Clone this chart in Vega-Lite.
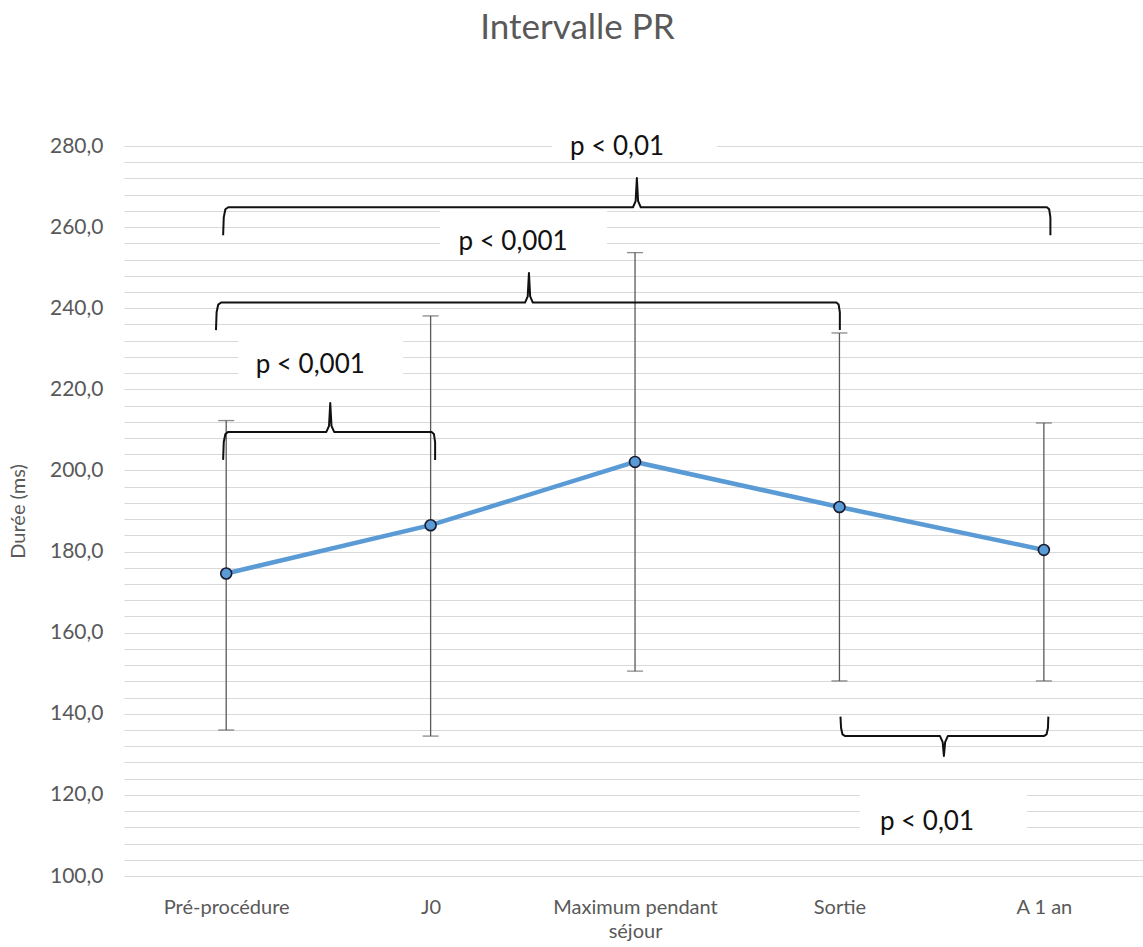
{
  "$schema": "https://vega.github.io/schema/vega-lite/v6.json",
  "width": 1019,
  "height": 730,
  "autosize": {"type": "none"},
  "padding": {"left": 124, "top": 146, "right": 0, "bottom": 71},
  "background": "white",
  "title": {"text": "Intervalle PR", "font": "Lato", "fontSize": 35, "fontWeight": "normal", "color": "#595959", "anchor": "middle", "frame": "group", "dx": -56, "offset": 88},
  "config": {"view": {"stroke": null}},
  "datasets": {
    "main": [
      {"x": 0, "y": 174.6},
      {"x": 1, "y": 186.5},
      {"x": 2, "y": 202.1},
      {"x": 3, "y": 191.0},
      {"x": 4, "y": 180.4}
    ],
    "err": [
      {"x": 0, "y": 136.0, "y2": 212.3},
      {"x": 1, "y": 134.5, "y2": 238.1},
      {"x": 2, "y": 150.5, "y2": 253.7},
      {"x": 3, "y": 148.1, "y2": 233.9},
      {"x": 4, "y": 148.1, "y2": 211.7}
    ],
    "caps": [
      {"x": 0, "y": 136.0}, {"x": 0, "y": 212.3},
      {"x": 1, "y": 134.5}, {"x": 1, "y": 238.1},
      {"x": 2, "y": 150.5}, {"x": 2, "y": 253.7},
      {"x": 3, "y": 148.1}, {"x": 3, "y": 233.9},
      {"x": 4, "y": 148.1}, {"x": 4, "y": 211.7}
    ],
    "braces": [
      {"b": 1, "o": 1, "x": -0.015, "y": 202.6}, {"b": 1, "o": 2, "x": -0.012, "y": 207.0}, {"b": 1, "o": 3, "x": -0.004, "y": 209.0}, {"b": 1, "o": 4, "x": 0.01, "y": 209.5},
      {"b": 1, "o": 5, "x": 0.49, "y": 209.5}, {"b": 1, "o": 6, "x": 0.503, "y": 211.0}, {"b": 1, "o": 7, "x": 0.509, "y": 216.6}, {"b": 1, "o": 8, "x": 0.515, "y": 211.0}, {"b": 1, "o": 9, "x": 0.528, "y": 209.5},
      {"b": 1, "o": 10, "x": 1.005, "y": 209.5}, {"b": 1, "o": 11, "x": 1.016, "y": 209.0}, {"b": 1, "o": 12, "x": 1.022, "y": 207.0}, {"b": 1, "o": 13, "x": 1.022, "y": 202.6},
      {"b": 2, "o": 1, "x": -0.05, "y": 234.6}, {"b": 2, "o": 2, "x": -0.047, "y": 239.0}, {"b": 2, "o": 3, "x": -0.039, "y": 240.9}, {"b": 2, "o": 4, "x": -0.025, "y": 241.4},
      {"b": 2, "o": 5, "x": 1.462, "y": 241.4}, {"b": 2, "o": 6, "x": 1.475, "y": 242.9}, {"b": 2, "o": 7, "x": 1.481, "y": 248.7}, {"b": 2, "o": 8, "x": 1.487, "y": 242.9}, {"b": 2, "o": 9, "x": 1.5, "y": 241.4},
      {"b": 2, "o": 10, "x": 2.985, "y": 241.4}, {"b": 2, "o": 11, "x": 2.996, "y": 240.9}, {"b": 2, "o": 12, "x": 3.002, "y": 239.0}, {"b": 2, "o": 13, "x": 3.002, "y": 234.6},
      {"b": 3, "o": 1, "x": -0.015, "y": 258.0}, {"b": 3, "o": 2, "x": -0.012, "y": 262.4}, {"b": 3, "o": 3, "x": -0.004, "y": 264.4}, {"b": 3, "o": 4, "x": 0.01, "y": 264.9},
      {"b": 3, "o": 5, "x": 1.99, "y": 264.9}, {"b": 3, "o": 6, "x": 2.003, "y": 266.4}, {"b": 3, "o": 7, "x": 2.009, "y": 272.1}, {"b": 3, "o": 8, "x": 2.015, "y": 266.4}, {"b": 3, "o": 9, "x": 2.028, "y": 264.9},
      {"b": 3, "o": 10, "x": 4.015, "y": 264.9}, {"b": 3, "o": 11, "x": 4.026, "y": 264.4}, {"b": 3, "o": 12, "x": 4.032, "y": 262.4}, {"b": 3, "o": 13, "x": 4.032, "y": 258.0},
      {"b": 4, "o": 1, "x": 3.005, "y": 139.3}, {"b": 4, "o": 2, "x": 3.008, "y": 136.5}, {"b": 4, "o": 3, "x": 3.015, "y": 134.9}, {"b": 4, "o": 4, "x": 3.028, "y": 134.5},
      {"b": 4, "o": 5, "x": 3.492, "y": 134.5}, {"b": 4, "o": 6, "x": 3.505, "y": 133.0}, {"b": 4, "o": 7, "x": 3.511, "y": 129.6}, {"b": 4, "o": 8, "x": 3.517, "y": 133.0}, {"b": 4, "o": 9, "x": 3.53, "y": 134.5},
      {"b": 4, "o": 10, "x": 4.0, "y": 134.5}, {"b": 4, "o": 11, "x": 4.013, "y": 134.9}, {"b": 4, "o": 12, "x": 4.02, "y": 136.5}, {"b": 4, "o": 13, "x": 4.022, "y": 139.3}
    ],
    "boxes": [
      {"x": 0.059, "x2": 0.866, "y": 221.8, "y2": 234.6},
      {"x": 1.046, "x2": 1.863, "y": 253.1, "y2": 265.4},
      {"x": 1.594, "x2": 2.401, "y": 277.8, "y2": 281.0},
      {"x": 3.1, "x2": 3.917, "y": 110.1, "y2": 122.4}
    ],
    "labels": [
      {"x": 0.411, "y": 226.0, "t": "p < 0,001"},
      {"x": 1.403, "y": 256.3, "t": "p < 0,001"},
      {"x": 1.912, "y": 279.7, "t": "p < 0,01"},
      {"x": 3.428, "y": 113.3, "t": "p < 0,01"}
    ]
  },
  "encoding": {
    "x": {"field": "x", "type": "quantitative", "scale": {"domain": [-0.5, 4.485], "nice": false, "zero": false},
      "axis": {"values": [0, 1, 2, 3, 4], "grid": false, "domain": false, "ticks": false, "title": null, "labelFont": "Lato", "labelFontSize": 20, "labelColor": "#595959", "labelPadding": 21, "labelLineHeight": 24, "labelOverlap": false, "labelFlush": false, "labelBound": false,
        "labelExpr": "datum.value == 0 ? 'Pré-procédure' : datum.value == 1 ? 'J0' : datum.value == 2 ? ['Maximum pendant', 'séjour'] : datum.value == 3 ? 'Sortie' : 'A 1 an'"}},
    "y": {"field": "y", "type": "quantitative", "scale": {"domain": [100, 280], "nice": false, "zero": false},
      "axis": {"values": [100,104,108,112,116,120,124,128,132,136,140,144,148,152,156,160,164,168,172,176,180,184,188,192,196,200,204,208,212,216,220,224,228,232,236,240,244,248,252,256,260,264,268,272,276,280],
        "grid": true, "gridColor": "#d9d9d9", "gridWidth": 1.2, "domain": false, "ticks": false, "labelFont": "Lato", "labelFontSize": 21, "labelColor": "#595959", "labelPadding": 21,
        "labelExpr": "datum.value % 20 === 0 ? replace(format(datum.value, '.1f'), '.', ',') : ''",
        "title": "Durée (ms)", "titleFont": "Lato", "titleFontSize": 20, "titleFontWeight": "normal", "titleColor": "#595959", "titlePadding": 21}}
  },
  "layer": [
    {
      "data": {"name": "boxes"},
      "mark": {"type": "rect", "color": "white"},
      "encoding": {"x2": {"field": "x2"}, "y2": {"field": "y2"}}
    },
    {
      "data": {"name": "err"},
      "mark": {"type": "rule", "color": "#595959", "strokeWidth": 1.3},
      "encoding": {"y2": {"field": "y2"}}
    },
    {
      "data": {"name": "caps"},
      "mark": {"type": "tick", "orient": "horizontal", "color": "#595959", "size": 16, "thickness": 1.3}
    },
    {
      "data": {"name": "braces"},
      "mark": {"type": "line", "color": "#111111", "strokeWidth": 2, "strokeJoin": "round"},
      "encoding": {
        "detail": {"field": "b", "type": "nominal"},
        "order": {"field": "o", "type": "quantitative"}
      }
    },
    {
      "data": {"name": "main"},
      "mark": {"type": "line", "color": "#5b9bd5", "strokeWidth": 4.5}
    },
    {
      "data": {"name": "main"},
      "mark": {"type": "point", "shape": "circle", "filled": true, "fill": "#5b9bd5", "stroke": "#1a1a2e", "strokeWidth": 1.6, "size": 120, "opacity": 1}
    },
    {
      "data": {"name": "labels"},
      "mark": {"type": "text", "font": "Lato", "fontSize": 26, "color": "#111111", "align": "center", "baseline": "middle"},
      "encoding": {"text": {"field": "t"}}
    }
  ]
}
